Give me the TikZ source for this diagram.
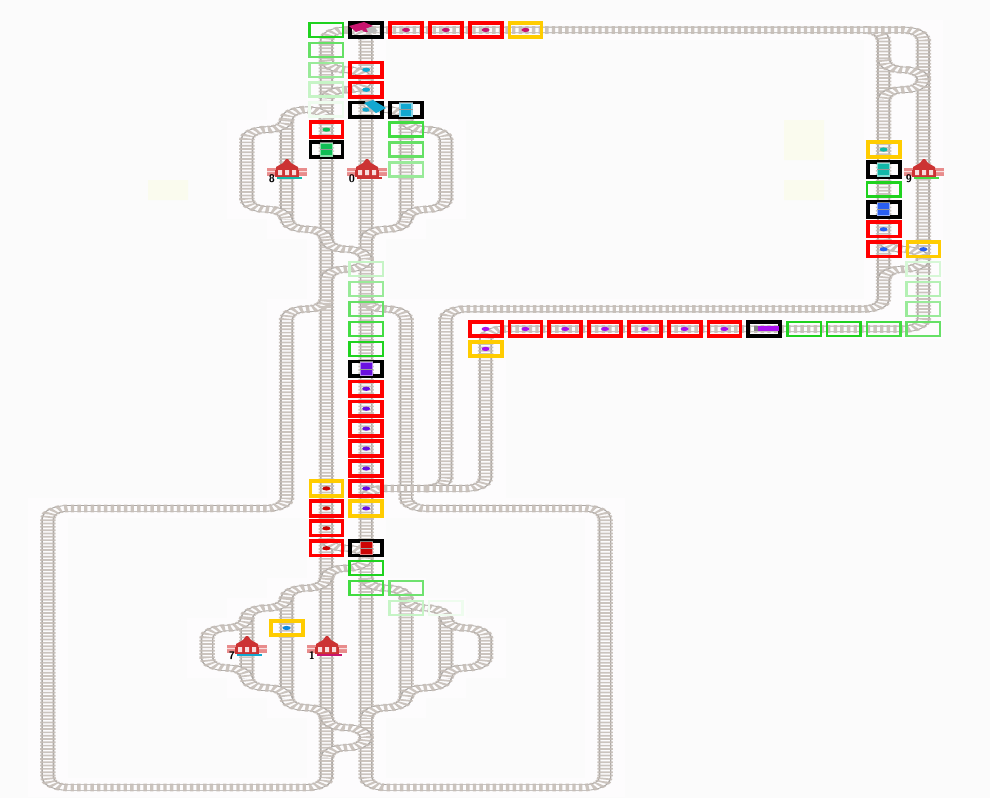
\documentclass[tikz,border=0pt]{standalone}
\usepackage{tikz}
\usetikzlibrary{shapes.geometric}

\definecolor{backc}{HTML}{FBFBFB}
\definecolor{cellc}{HTML}{FDFCFD}
\definecolor{paleyellow}{HTML}{FAFBEE}
\definecolor{railc}{HTML}{ABA7A3}
\definecolor{tiec}{HTML}{C6BEB8}
\definecolor{grnA}{HTML}{1FD21F}
\definecolor{grnB}{HTML}{42DC42}
\definecolor{grnC}{HTML}{66E066}
\definecolor{grnD}{HTML}{99EA99}
\definecolor{grnE}{HTML}{C6F4C6}
\definecolor{grnF}{HTML}{EEFCEE}
\definecolor{goldc}{HTML}{FFCC00}
\definecolor{crimsonc}{HTML}{C8146E}
\definecolor{cyanc}{HTML}{12A8D0}
\definecolor{greenc}{HTML}{10BE55}
\definecolor{violetc}{HTML}{6A10E0}
\definecolor{redc}{HTML}{CC0505}
\definecolor{skyc}{HTML}{0A88E0}
\definecolor{purplec}{HTML}{AA12EE}
\definecolor{tealc}{HTML}{12B8A8}
\definecolor{bluec}{HTML}{2A5FF0}
\definecolor{stationc}{HTML}{CC3333}
\definecolor{stationbar}{HTML}{E88C8C}

\tikzset{
  trackcell/.style={draw=cellc,line width=39.8pt},
  trackbed/.style={draw=railc,line width=1.7pt,double=cellc,double distance=9.5pt,rounded corners=19.9pt},
  trackties/.style={draw=tiec,draw opacity=.9,line width=15.5pt,dash pattern=on 3.4pt off 3.23pt,rounded corners=19.9pt},
  cellbox/.style={rectangle,inner sep=0pt,outer sep=0pt,minimum width=32pt,minimum height=14.5pt,line width=3.8pt},
  greenbox/.style={rectangle,inner sep=0pt,outer sep=0pt,minimum width=33.5pt,minimum height=14pt,line width=2.5pt},
  agentdot/.style={ellipse,inner sep=0pt,minimum width=8pt,minimum height=4.2pt},
  trainbody/.style={rectangle,inner sep=0pt,minimum width=12pt,minimum height=13pt},
}

% tracks as lines through the cell centres: (column,row)
\def\tracklist{
  {(9,1)--(8,1)--(8,39)--(1,39)--(1,25)--(7,25)--(7,15)--(8,15)--(8,14.5)},
  {(8.5,1)--(9,1)--(9,39)--(15,39)--(15,25)--(10,25)--(10,15)--(9,15)--(9,14.5)},
  {(9,1)--(22,1)--(22,15)--(11,15)--(11,24)--(9,24)--(9,24.5)},
  {(10.5,24)--(12,24)--(12,16)--(23,16)--(23,1)--(21.5,1)},
  {(8,2.5)--(8,3)--(9,3)--(9,4)--(8,4)--(8,4.5)},
  {(22,2.5)--(22,3)--(23,3)--(23,4)--(22,4)--(22,4.5)},
  {(22,11.5)--(22,12)--(23,12)--(23,13)--(22,13)--(22,13.5)},
  {(9,4.5)--(9,5)--(10,5)--(10,11)--(9,11)--(9,11.5)},
  {(10,5.5)--(10,6)--(11,6)--(11,10)--(10,10)--(10,10.5)},
  {(8,5.5)--(8,5)--(7,5)--(7,11)--(8,11)--(8,11.5)},
  {(7,5.5)--(7,6)--(6,6)--(6,10)--(7,10)--(7,10.5)},
  {(8,11.5)--(8,12)--(9,12)--(9,13)--(8,13)--(8,13.5)},
  {(8,26.5)--(8,27)--(9,27)--(9,28)--(8,28)--(8,28.5)},
  {(8,28.5)--(8,29)--(7,29)--(7,35)--(8,35)--(8,35.5)},
  {(8,35.5)--(8,36)--(9,36)--(9,37)--(8,37)--(8,37.5)},
  {(7,29.5)--(7,30)--(6,30)--(6,34)--(7,34)--(7,34.5)},
  {(6,30.5)--(6,31)--(5,31)--(5,33)--(6,33)--(6,33.5)},
  {(9,28.5)--(9,29)--(10,29)--(10,35)--(9,35)--(9,35.5)},
  {(10,29.5)--(10,30)--(11,30)--(11,34)--(10,34)--(10,34.5)},
  {(11,30.5)--(11,31)--(12,31)--(12,33)--(11,33)--(11,33.5)}}

\begin{document}
\begin{tikzpicture}[x=1pt,y=-1pt]
  \useasboundingbox (0,0) rectangle (990,798);
  \fill[backc] (0,0) rectangle (990,798);
  \fill[paleyellow] (148,180) rectangle (188,200)
    (784,120) rectangle (824,160) (784,180) rectangle (824,200);

  % grid is square here and squeezed to half height on the canvas
  \begin{scope}[transform canvas={yscale=.5},x=39.8pt,y=-39.87pt,xshift=8pt,yshift=-20pt]
    \foreach \trackpath in \tracklist { \draw[trackcell] \trackpath; }
    \foreach \trackpath in \tracklist { \draw[trackbed] \trackpath; \draw[trackties] \trackpath; }
  \end{scope}

  % stations
  \foreach \sx/\sy/\sname/\scol in {287/170/8/tealc,367/170/0/stationc,924/170/9/grnB,247/647/7/cyanc,327/647/1/crimsonc} {
    \begin{scope}[shift={(\sx,\sy)}]
      \fill[stationbar] (-20,-2) rectangle (20,6);
      \fill[stationbar!30] (-20,1) rectangle (-12,2.2) (12,1) rectangle (20,2.2);
      \fill[stationc] (-11,1) -- (-11,-3) -- (-4,-7) -- (-1,-11) -- (1,-11) -- (4,-7) -- (11,-3) -- (11,1) -- cycle;
      \fill[stationc] (-12,0) rectangle (12,6.5);
      \fill[stationbar!30] (-9,0) rectangle (-5,5) (-2,0) rectangle (2,5) (5,0) rectangle (9,5);
      \fill[\scol] (-10,7) rectangle (15,9.2);
      \node (station\sname) [font=\fontsize{11}{11}\selectfont\bfseries\sffamily,inner sep=0pt,anchor=center] at (-15,9) {\sname};
    \end{scope}
  }

  % same grid for the cell boxes
  \begin{scope}[x=39.8pt,y=-19.935pt,xshift=8pt,yshift=-10pt]
    \foreach \cx/\cy [count=\i] in {10/1,11/1,12/1,9/3,9/4,8/6,9/19,9/20,9/21,9/22,9/23,9/24,8/25,8/26,8/27,
        12/16,13/16,14/16,15/16,16/16,17/16,18/16,22/11,22/12}
      \node (redbox\i) [cellbox,draw=red] at (\cx,\cy) {};
    \foreach \cx/\cy [count=\i] in {13/1,9/25,8/24,7/31,12/17,22/7,23/12}
      \node (goldbox\i) [cellbox,draw=goldc] at (\cx,\cy) {};
    \foreach \cx/\cy/\ccol [count=\i] in {8/1/grnA,8/2/grnC,8/3/grnD,8/4/grnE,8/5/grnF,10/6/grnB,10/7/grnC,10/8/grnD,
        9/13/grnE,9/14/grnD,9/15/grnC,9/16/grnB,9/17/grnA,9/28/grnA,9/29/grnB,10/29/grnC!80!grnD,10/30/grnE,11/30/grnF,
        20/16/grnA,21/16/grnA,22/16/grnB,23/16/grnC,22/9/grnA,23/13/grnE!60!grnF,23/14/grnE!60!grnD,23/15/grnD}
      \node (greenbox\i) [greenbox,draw=\ccol] at (\cx,\cy) {};

    % black boxes hold the larger trains
    \foreach \cx/\cy [count=\i] in {9/1,9/5,10/5,8/7,9/18,9/27,19/16,22/8,22/10}
      \node (blackbox\i) [cellbox,draw=black] at (\cx,\cy) {};

    \foreach \cx/\cy/\ccol [count=\i] in {10/5/cyanc,8/7/greenc,9/18/violetc,9/27/redc,22/8/tealc,22/10/bluec} {
      \node (train\i) [trainbody,fill=\ccol,draw=\ccol!50,line width=1.2pt] at (\cx,\cy) {};
      \draw[gray,line width=1.2pt] (train\i.north west) -- (train\i.north east);
      \draw[black!40,line width=.6pt] (train\i.west) -- (train\i.east);
    }

    \foreach \cx/\cy/\ccol [count=\i] in {9/1/crimsonc,10/1/crimsonc,11/1/crimsonc,12/1/crimsonc,13/1/crimsonc,
        9/3/cyanc,9/4/cyanc,9/5/cyanc,8/6/greenc,
        9/19/violetc,9/20/violetc,9/21/violetc,9/22/violetc,9/23/violetc,9/24/violetc,9/25/violetc,
        8/24/redc,8/25/redc,8/26/redc,8/27/redc,7/31/skyc,
        12/16/purplec,13/16/purplec,14/16/purplec,15/16/purplec,16/16/purplec,17/16/purplec,18/16/purplec,12/17/purplec,
        22/7/tealc,22/11/bluec,22/12/bluec,23/12/bluec}
      \node (agent\i) [agentdot,fill=\ccol] at (\cx,\cy) {};
  \end{scope}

  % tilted trains and the one lying along the row
  \fill[gray!55] (363,22) -- (372,26) -- (378,31) -- (369,34) -- cycle;
  \fill[crimsonc] (349,26) -- (364,22) -- (373,26) -- (356,32) -- cycle;
  \fill[gray!55] (365,101) -- (372,100) -- (378,112) -- (370,112) -- cycle;
  \fill[cyanc] (364,103) -- (373,100) -- (386,108) -- (376,113) -- cycle;
  \fill[gray] (754,326) rectangle (759,331);
  \fill[purplec] (758,325.5) rectangle (779,331);
\end{tikzpicture}
\end{document}
